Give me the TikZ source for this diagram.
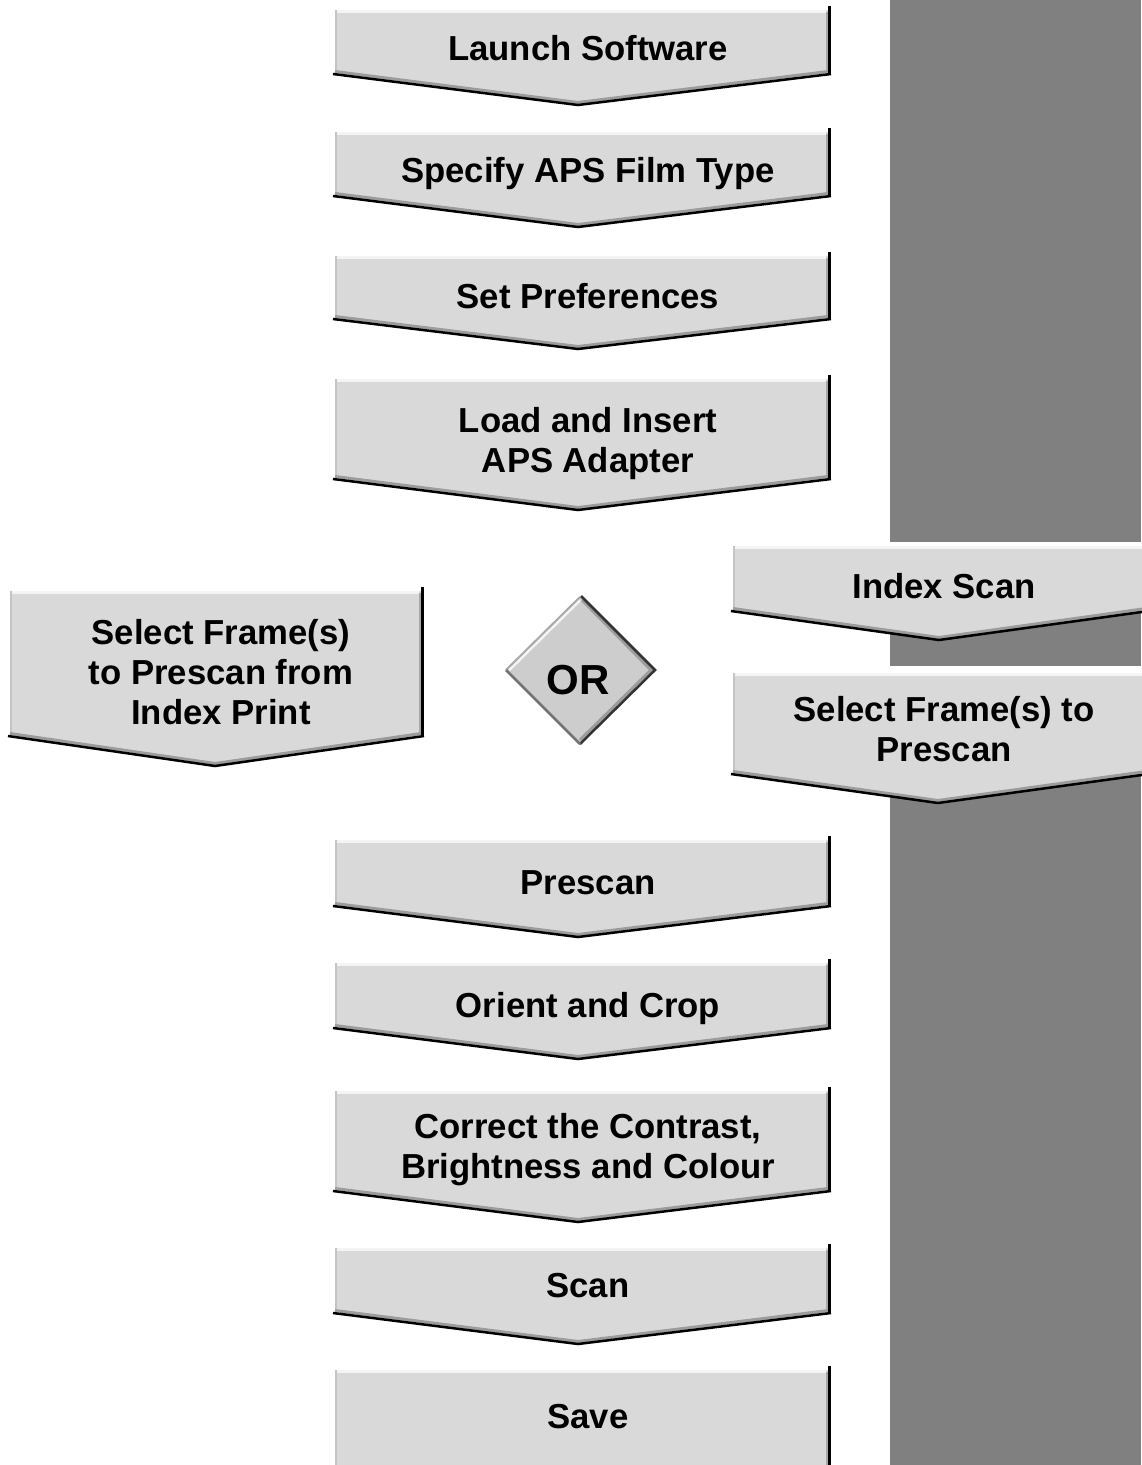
\documentclass[tikz,border=0pt]{standalone}
\usepackage{fontspec}
\setmainfont{Liberation Sans}
\definecolor{boxfill}{HTML}{D9D9D9}
\definecolor{diafill}{HTML}{CDCDCD}
\definecolor{colbar}{HTML}{808080}
\definecolor{hilite}{HTML}{F4F4F4}
\definecolor{leftedge}{HTML}{C4C4C4}
\definecolor{innergray}{HTML}{A8A8A8}
\definecolor{bevel}{HTML}{9C9C9C}
\newcommand\lstrut{\rule[-7.5pt]{0pt}{32.35pt}}
% left right top bottom tipx tipy
\newcommand\chevbox[6]{%
  \fill[boxfill] (#1,#3) -- (#2,#3) -- (#2,#4) -- (#5,#6) -- (#1,#4) -- cycle;
  \draw[line width=3pt, hilite] (#1,#3+1.5) -- (#2-2,#3+1.5);
  \draw[line width=2pt, leftedge] (#1+1,#3) -- (#1+1,#4);
  \draw[line width=2pt, innergray] (#2-1,#3+2) -- (#2-1,#4-1);
  \draw[line width=3pt, bevel] (#1,#4-1.5) -- (#5,#6-1.5) -- (#2,#4-1.5);
  \draw[line width=2.5pt, black] (#1-2,#4+1) -- (#5,#6+1) -- (#2+3,#4+1);
  \draw[line width=3pt, black] (#2+1.5,#3-4) -- (#2+1.5,#4+1);
}
\begin{document}
\begin{tikzpicture}[x=1pt,y=-1pt,
  txt/.style={font=\bfseries\fontsize{34.7}{40}\selectfont, align=center, inner sep=0pt, anchor=center},
  ortxt/.style={font=\bfseries\fontsize{42}{48}\selectfont, inner sep=0pt, anchor=center}]
\useasboundingbox (0,0) rectangle (1141,1465);
\fill[white] (0,0) rectangle (1141,1465);
% grey column
\fill[colbar] (890,0) rectangle (1141,1465);
\fill[white] (880,542) rectangle (1141,611);
\fill[white] (880,666) rectangle (1141,774);

% main column boxes
\chevbox{335}{828}{10}{73}{578}{104}
\chevbox{335}{828}{132}{195}{578}{226}
\chevbox{335}{828}{256}{318}{578}{348}
\chevbox{335}{828}{379}{478}{578}{509}
\chevbox{335}{828}{840}{905}{578}{936}
\chevbox{335}{828}{963}{1027}{578}{1058}
\chevbox{335}{828}{1091}{1190}{578}{1221}
\chevbox{335}{828}{1248}{1312}{578}{1343}
\chevbox{335}{828}{1370}{1470}{578}{1470}

% left box
\chevbox{10}{421}{591}{735}{215}{765}
% right boxes
\chevbox{733}{1146}{546}{610}{939}{639}
\chevbox{733}{1146}{673}{773}{938}{802}

% diamond
\fill[diafill] (580,597) -- (654,670) -- (580,743) -- (506,670) -- cycle;
\draw[line width=3pt, hilite] (509,670) -- (580,600);
\draw[line width=2pt, innergray] (506,670) -- (580,597);
\draw[line width=3pt, bevel] (582,600) -- (651,670) -- (580,740);
\draw[line width=2.5pt, black!80] (581,596) -- (655,670) -- (580,744);
\draw[line width=2.5pt, black!55] (580,744) -- (506,670);

% texts
\node[txt] (t1) at (588,52) {\lstrut Launch Software};
\node[txt] (t2) at (588,174) {\lstrut Specify APS Film Type};
\node[txt] (t3) at (588,300) {\lstrut Set Preferences};
\node[txt] (t4) at (588,444) {\lstrut Load and Insert\\\lstrut APS Adapter};
\node[txt] (t5) at (221,676) {\lstrut Select Frame(s)\\\lstrut to Prescan from\\\lstrut Index Print};
\node[ortxt] (tor) at (578,680) {OR};
\node[txt] (t7) at (944,590) {\lstrut Index Scan};
\node[txt] (t8) at (944,733) {\lstrut Select Frame(s) to\\\lstrut Prescan};
\node[txt] (t9) at (588,886) {\lstrut Prescan};
\node[txt] (t10) at (588,1009) {\lstrut Orient and Crop};
\node[txt] (t11) at (588,1150) {\lstrut Correct the Contrast,\\\lstrut Brightness and Colour};
\node[txt] (t12) at (588,1289) {\lstrut Scan};
\node[txt] (t13) at (588,1420) {\lstrut Save};
\end{tikzpicture}
\end{document}
